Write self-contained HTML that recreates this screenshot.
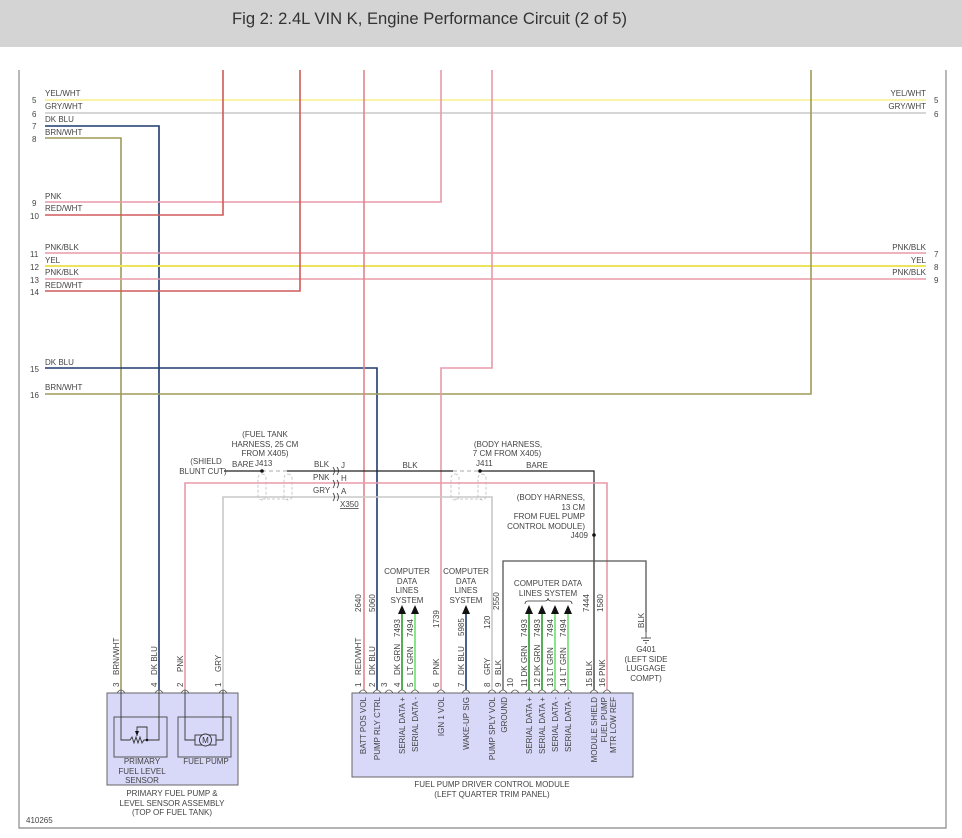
<!DOCTYPE html>
<html><head><meta charset="utf-8"><style>
html,body{margin:0;padding:0;background:#fff;}
svg{display:block;font-family:"Liberation Sans",sans-serif;}
text{font-size:8px;fill:#444;}
</style></head><body>
<svg width="962" height="838" viewBox="0 0 962 838" xmlns="http://www.w3.org/2000/svg">
<rect x="0" y="0" width="962" height="47" fill="#d4d4d4"/>
<text x="232" y="24" style="font-size:16.6px;fill:#333">Fig 2: 2.4L VIN K, Engine Performance Circuit (2 of 5)</text>
<!-- frame -->
<path d="M19 70 V828 H946 V70" fill="none" stroke="#888" stroke-width="1.2"/>

<g fill="none" stroke-width="1.6">
<line x1="45" y1="100" x2="926" y2="100" stroke="#f5ef8a"/>
<line x1="45" y1="113" x2="926" y2="113" stroke="#c8c8c8"/>
<path d="M45 126 H159 V690" stroke="#1f3a6e"/>
<path d="M45 138 H121 V690" stroke="#a09a5a"/>
<path d="M45 202 H441 V70" stroke="#e89aaa"/>
<path d="M45 215 H223 V70" stroke="#d05a5a"/>
<line x1="45" y1="253" x2="926" y2="253" stroke="#e89aaa"/>
<line x1="45" y1="266" x2="926" y2="266" stroke="#ece45a" stroke-width="2"/>
<line x1="45" y1="279" x2="926" y2="279" stroke="#e89aaa"/>
<path d="M45 291 H300 V70" stroke="#d05a5a"/>
<path d="M45 368 H377 V690" stroke="#1f3a6e"/>
<path d="M45 394 H811 V70" stroke="#a09a5a"/>
<line x1="364" y1="70" x2="364" y2="690" stroke="#e0858a"/>
<path d="M492 70 V368 H441 V690" stroke="#e89aaa"/>
<path d="M224 471 H262" stroke="#222" stroke-width="1.2"/>
<path d="M287 471 H453" stroke="#222" stroke-width="1.2"/>
<path d="M480 471 H594 V690" stroke="#222" stroke-width="1.2"/>
<path d="M262 471 H287 M453 471 H480" stroke="#aaa" stroke-width="1" stroke-dasharray="4,3"/>
<path d="M185 690 V483 H607 V690" stroke="#e89aaa"/>
<path d="M223 690 V497 H492 V690" stroke="#c8c8c8"/>
<path d="M503 690 V561 H646 V632" stroke="#555" stroke-width="1.3"/>
<g stroke="#bbb" stroke-width="0.8" stroke-dasharray="3,2">
<rect x="258" y="474" width="8" height="26" rx="4"/><rect x="284" y="474" width="8" height="26" rx="4"/>
<rect x="451" y="474" width="8" height="26" rx="4"/><rect x="478" y="474" width="8" height="26" rx="4"/>
<path d="M262 499 H288 M455 499 H482"/>
</g>
<line x1="402" y1="610" x2="402" y2="690" stroke="#2a9a2a"/>
<line x1="415" y1="610" x2="415" y2="690" stroke="#6ee06e"/>
<line x1="466" y1="610" x2="466" y2="690" stroke="#1f3a6e"/>
<line x1="529" y1="610" x2="529" y2="690" stroke="#2a9a2a"/>
<line x1="542" y1="610" x2="542" y2="690" stroke="#2a9a2a"/>
<line x1="555" y1="610" x2="555" y2="690" stroke="#6ee06e"/>
<line x1="568" y1="610" x2="568" y2="690" stroke="#6ee06e"/>
</g>
<g fill="#111">
<path d="M398 614 L402 605 L406 614Z"/><path d="M411 614 L415 605 L419 614Z"/><path d="M462 614 L466 605 L470 614Z"/>
<path d="M525 614 L529 605 L533 614Z"/><path d="M538 614 L542 605 L546 614Z"/><path d="M551 614 L555 605 L559 614Z"/><path d="M564 614 L568 605 L572 614Z"/>
<circle cx="262" cy="471" r="1.8"/><circle cx="480" cy="471" r="1.8"/><circle cx="594" cy="535" r="1.8"/>
</g>
<path d="M525 604 q0 -3 3 -3 H545 q3 0 3 -3 q0 3 3 3 H569 q3 0 3 3" fill="none" stroke="#333" stroke-width="0.8"/>
<g fill="none" stroke="#333" stroke-width="0.8">
<path d="M333 467 q3 4 0 8 M337 467 q3 4 0 8 M333 480 q3 4 0 8 M337 480 q3 4 0 8 M333 493 q3 4 0 8 M337 493 q3 4 0 8"/>
</g>
<g stroke="#333" stroke-width="0.8"><line x1="646" y1="632" x2="646" y2="638"/><line x1="641" y1="638" x2="651" y2="638"/><line x1="643" y1="640.5" x2="649" y2="640.5"/><line x1="645" y1="643" x2="647" y2="643"/></g>

<rect x="352" y="693" width="281" height="84" fill="#d8d8f8" stroke="#666" stroke-width="1"/>
<g fill="none" stroke="#555" stroke-width="0.8">
<path d="M359 693 q4 -6 8 0 M373 693 q4 -6 8 0 M385 693 q4 -6 8 0 M398 693 q4 -6 8 0 M411 693 q4 -6 8 0 M437 693 q4 -6 8 0 M462 693 q4 -6 8 0 M488 693 q4 -6 8 0 M499 693 q4 -6 8 0 M511 693 q4 -6 8 0 M525 693 q4 -6 8 0 M538 693 q4 -6 8 0 M551 693 q4 -6 8 0 M564 693 q4 -6 8 0 M590 693 q4 -6 8 0 M603 693 q4 -6 8 0"/>
<path d="M117 693 q4 -6 8 0 M155 693 q4 -6 8 0 M181 693 q4 -6 8 0 M219 693 q4 -6 8 0"/>
</g>
<rect x="107" y="693" width="131" height="92" fill="#d8d8f8" stroke="#666"/>
<rect x="114" y="717" width="53" height="40" fill="none" stroke="#555"/>
<rect x="178" y="717" width="53" height="40" fill="none" stroke="#555"/>
<g fill="none" stroke="#333" stroke-width="0.9">
<path d="M121 690 V740 H130 l2 -3 l2 6 l2 -6 l2 6 l2 -6 l2 6 l2 -3 H159 V690"/>
<path d="M137 736 V727 H147 V740"/>
<path d="M185 690 V740 H195 M216 740 H223 V690"/>
<rect x="195" y="735" width="21" height="10"/>
<circle cx="205.5" cy="740" r="6" fill="#d8d8f8"/>
</g>
<path d="M135 731 L137 736 L139 731Z" fill="#111"/><circle cx="147" cy="740" r="1.3" fill="#111"/>
<text x="205.5" y="743" text-anchor="middle" style="font-size:8px;fill:#333">M</text>

<g>
<text x="45" y="96">YEL/WHT</text><text x="32" y="103">5</text>
<text x="45" y="109">GRY/WHT</text><text x="32" y="117">6</text>
<text x="45" y="122">DK BLU</text><text x="32" y="129">7</text>
<text x="45" y="135">BRN/WHT</text><text x="32" y="142">8</text>
<text x="45" y="199">PNK</text><text x="32" y="206">9</text>
<text x="45" y="211">RED/WHT</text><text x="30" y="219">10</text>
<text x="45" y="250">PNK/BLK</text><text x="30" y="257">11</text>
<text x="45" y="263">YEL</text><text x="30" y="270">12</text>
<text x="45" y="275">PNK/BLK</text><text x="30" y="283">13</text>
<text x="45" y="288">RED/WHT</text><text x="30" y="295">14</text>
<text x="45" y="365">DK BLU</text><text x="30" y="372">15</text>
<text x="45" y="390">BRN/WHT</text><text x="30" y="398">16</text>
</g>
<g text-anchor="end">
<text x="926" y="96">YEL/WHT</text><text x="926" y="109">GRY/WHT</text>
<text x="926" y="250">PNK/BLK</text><text x="926" y="263">YEL</text><text x="926" y="275">PNK/BLK</text>
</g>
<text x="934" y="103">5</text><text x="934" y="117">6</text><text x="934" y="257">7</text><text x="934" y="270">8</text><text x="934" y="283">9</text>

<g text-anchor="middle">
<text x="265" y="437">(FUEL TANK</text><text x="265" y="447">HARNESS, 25 CM</text><text x="265" y="456">FROM X405)</text>
<text x="206" y="464">(SHIELD</text><text x="203" y="474">BLUNT CUT)</text>
<text x="410" y="468">BLK</text>
<text x="508" y="447">(BODY HARNESS,</text><text x="507" y="456">7 CM FROM X405)</text>
<text x="537" y="468">BARE</text>
</g>
<text x="232" y="467">BARE</text><text x="255" y="466">J413</text>
<text x="314" y="467">BLK</text><text x="313" y="480">PNK</text><text x="313" y="493">GRY</text>
<text x="341" y="468">J</text><text x="341" y="481">H</text><text x="341" y="494">A</text>
<text x="340" y="507" text-decoration="underline">X350</text>
<text x="476" y="466">J411</text>
<g text-anchor="end">
<text x="585" y="500">(BODY HARNESS,</text><text x="585" y="510">13 CM</text><text x="585" y="519">FROM FUEL PUMP</text><text x="585" y="529">CONTROL MODULE)</text><text x="588" y="538">J409</text>
</g>
<g text-anchor="middle">
<text x="407" y="574">COMPUTER</text><text x="407" y="584">DATA</text><text x="407" y="593">LINES</text><text x="407" y="603">SYSTEM</text>
<text x="466" y="574">COMPUTER</text><text x="466" y="584">DATA</text><text x="466" y="593">LINES</text><text x="466" y="603">SYSTEM</text>
<text x="548" y="586">COMPUTER DATA</text><text x="548" y="596">LINES SYSTEM</text>
<text x="646" y="652">G401</text><text x="646" y="662">(LEFT SIDE</text><text x="646" y="671">LUGGAGE</text><text x="646" y="681">COMPT)</text>
<text x="492" y="787">FUEL PUMP DRIVER CONTROL MODULE</text><text x="492" y="797">(LEFT QUARTER TRIM PANEL)</text>
<text x="142" y="764">PRIMARY</text><text x="142" y="774">FUEL LEVEL</text><text x="142" y="783">SENSOR</text>
<text x="206" y="764">FUEL PUMP</text>
<text x="172" y="796">PRIMARY FUEL PUMP &amp;</text><text x="172" y="806">LEVEL SENSOR ASSEMBLY</text><text x="172" y="815">(TOP OF FUEL TANK)</text>
</g>
<text x="26" y="823">410265</text>

<g text-anchor="start">
<text transform="translate(119,687) rotate(-90)">3</text><text transform="translate(119,675) rotate(-90)">BRN/WHT</text>
<text transform="translate(157,687) rotate(-90)">4</text><text transform="translate(157,675) rotate(-90)">DK BLU</text>
<text transform="translate(183,687) rotate(-90)">2</text><text transform="translate(183,672) rotate(-90)">PNK</text>
<text transform="translate(221,687) rotate(-90)">1</text><text transform="translate(221,672) rotate(-90)">GRY</text>

<text transform="translate(361,687) rotate(-90)">1</text><text transform="translate(361,675) rotate(-90)">RED/WHT</text><text transform="translate(361,612) rotate(-90)">2640</text>
<text transform="translate(375,687) rotate(-90)">2</text><text transform="translate(375,675) rotate(-90)">DK BLU</text><text transform="translate(375,612) rotate(-90)">5060</text>
<text transform="translate(387,687) rotate(-90)">3</text>
<text transform="translate(400,687) rotate(-90)">4</text><text transform="translate(400,675) rotate(-90)">DK GRN</text><text transform="translate(400,637) rotate(-90)">7493</text>
<text transform="translate(413,687) rotate(-90)">5</text><text transform="translate(413,675) rotate(-90)">LT GRN</text><text transform="translate(413,637) rotate(-90)">7494</text>
<text transform="translate(439,687) rotate(-90)">6</text><text transform="translate(439,675) rotate(-90)">PNK</text><text transform="translate(439,628) rotate(-90)">1739</text>
<text transform="translate(464,687) rotate(-90)">7</text><text transform="translate(464,675) rotate(-90)">DK BLU</text><text transform="translate(464,636) rotate(-90)">5985</text>
<text transform="translate(490,687) rotate(-90)">8</text><text transform="translate(490,675) rotate(-90)">GRY</text><text transform="translate(490,629) rotate(-90)">120</text>
<text transform="translate(501,687) rotate(-90)">9</text><text transform="translate(501,675) rotate(-90)">BLK</text><text transform="translate(499,610) rotate(-90)">2550</text>
<text transform="translate(513,687) rotate(-90)">10</text>
<text transform="translate(527,687) rotate(-90)">11 DK GRN</text><text transform="translate(527,637) rotate(-90)">7493</text>
<text transform="translate(540,687) rotate(-90)">12 DK GRN</text><text transform="translate(540,637) rotate(-90)">7493</text>
<text transform="translate(553,687) rotate(-90)">13 LT GRN</text><text transform="translate(553,637) rotate(-90)">7494</text>
<text transform="translate(566,687) rotate(-90)">14 LT GRN</text><text transform="translate(566,637) rotate(-90)">7494</text>
<text transform="translate(592,687) rotate(-90)">15 BLK</text><text transform="translate(589,612) rotate(-90)">7444</text>
<text transform="translate(605,687) rotate(-90)">16 PNK</text><text transform="translate(603,612) rotate(-90)">1580</text>
<text transform="translate(644,628) rotate(-90)">BLK</text>
</g>
<g text-anchor="end">
<text transform="translate(366,697) rotate(-90)">BATT POS VOL</text>
<text transform="translate(380,697) rotate(-90)">PUMP RLY CTRL</text>
<text transform="translate(405,697) rotate(-90)">SERIAL DATA +</text>
<text transform="translate(418,697) rotate(-90)">SERIAL DATA -</text>
<text transform="translate(444,697) rotate(-90)">IGN 1 VOL</text>
<text transform="translate(469,697) rotate(-90)">WAKE-UP SIG</text>
<text transform="translate(495,697) rotate(-90)">PUMP SPLY VOL</text>
<text transform="translate(507,697) rotate(-90)">GROUND</text>
<text transform="translate(532,697) rotate(-90)">SERIAL DATA +</text>
<text transform="translate(545,697) rotate(-90)">SERIAL DATA +</text>
<text transform="translate(558,697) rotate(-90)">SERIAL DATA -</text>
<text transform="translate(571,697) rotate(-90)">SERIAL DATA -</text>
<text transform="translate(597,697) rotate(-90)">MODULE SHIELD</text>
<text transform="translate(607,697) rotate(-90)">FUEL PUMP</text>
<text transform="translate(616,697) rotate(-90)">MTR LOW REF</text>
</g>
</svg>
</body></html>
